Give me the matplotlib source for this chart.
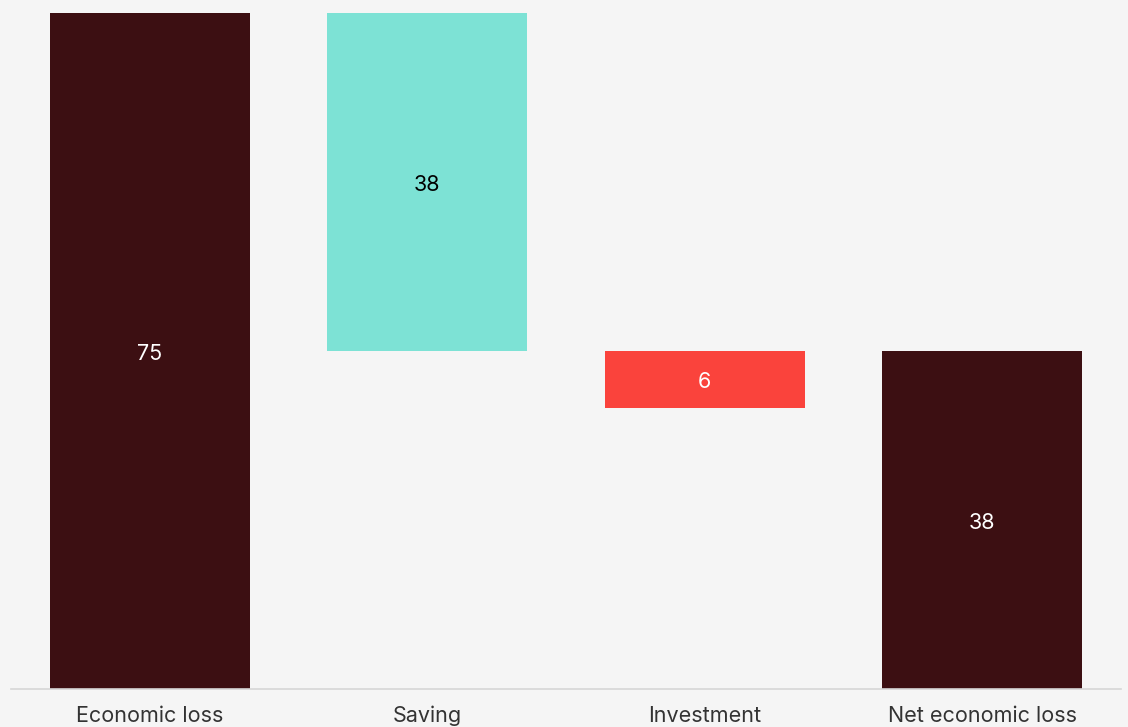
import matplotlib
matplotlib.use('Agg')
import matplotlib.pyplot as plt

# waterfall data
categories = ['Economic loss', 'Saving', 'Investment', 'Net economic loss']
values = [75, 37.5, 6.3, 37.5]
labels = ['75', '38', '6', '38']

plt.rcParams['font.family'] = ['Inter', 'DejaVu Sans']

bg = '#f5f5f5'
dark = '#3c0f12'
teal = '#7de2d5'
red = '#fa433c'

# bottoms: start at 0, saving drops from the top, investment hangs below, net from 0
bottoms = [0,
           values[0] - values[1],
           values[0] - values[1] - values[2],
           0]
colors = [dark, teal, red, dark]
text_colors = ['white', 'black', 'white', 'white']

fig = plt.figure(figsize=(11.28, 7.27), dpi=100, facecolor=bg)
ax = fig.add_axes([11 / 1128, 38 / 727, 1110 / 1128, 676 / 727])
ax.set_facecolor(bg)

x = range(len(categories))
ax.bar(x, values, bottom=bottoms, width=0.72, color=colors, zorder=2)

for i in x:
    ax.text(i, bottoms[i] + values[i] / 2 - 0.3, labels[i], ha='center', va='center',
            color=text_colors[i], fontsize=15.5)

ax.set_xlim(-0.5, 3.5)
ax.set_ylim(0, 75)
ax.set_yticks([])
ax.set_xticks(list(x))
ax.set_xticklabels(categories, fontsize=15.5, color='#333333')
ax.tick_params(axis='x', length=0, pad=12)

for side in ['top', 'right', 'left']:
    ax.spines[side].set_visible(False)
ax.spines['bottom'].set_color('#d6d6d6')
ax.spines['bottom'].set_linewidth(1.2)

fig.savefig('out.png', dpi=100, facecolor=bg)
